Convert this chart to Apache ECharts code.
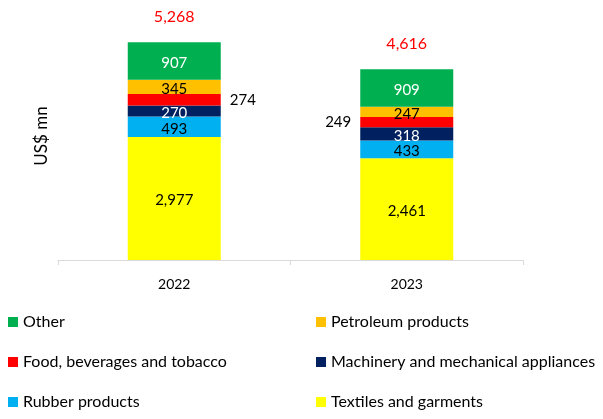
<!DOCTYPE html>
<html><head><meta charset="utf-8">
<script src="https://cdn.jsdelivr.net/npm/echarts@6/dist/echarts.min.js"></script>
<style>html,body{margin:0;padding:0;background:#fff}#c{width:603px;height:419px}</style>
</head><body><div id="c"></div>
<script>
const categories = ['2022', '2023'];
const textiles = [2977, 2461];
const rubber = [493, 433];
const machinery = [270, 318];
const food = [274, 249];
const petroleum = [345, 247];
const other = [907, 909];
const totals = [5268, 4616];

const FONT = 'Lato';
const chart = echarts.init(document.getElementById('c'));
function mk(name, data, color, labelColor, extra) {
  return {
    name: name, type: 'bar', stack: 's', barWidth: '40%',
    itemStyle: { color: color },
    label: { show: true, position: 'inside', color: labelColor, fontFamily: FONT, fontSize: 15, offset: [0, 2],
      formatter: p => p.value.toLocaleString('en-US') },
    emphasis: { disabled: true },
    data: data.map((v, i) => extra ? Object.assign({ value: v }, extra(i)) : v)
  };
}
const series = [
  mk('Textiles and garments', textiles, '#FFFF00', '#000'),
  mk('Rubber products', rubber, '#00B0F0', '#000'),
  mk('Machinery and mechanical appliances', machinery, '#002060', '#fff'),
  mk('Food, beverages and tobacco', food, '#FF0000', '#000', i => ({
    label: { position: i === 0 ? 'right' : 'left', distance: 9, offset: [0, 0] }
  })),
  mk('Petroleum products', petroleum, '#FFC000', '#000'),
  mk('Other', other, '#00B050', '#fff'),
  {
    name: 'Total', type: 'bar', stack: 's', barWidth: '40%',
    data: totals.map(() => 0),
    label: { show: true, position: 'top', distance: 17, color: '#FF0000', fontFamily: FONT, fontSize: 16,
      formatter: p => totals[p.dataIndex].toLocaleString('en-US') },
    emphasis: { disabled: true }
  }
];
const legendBase = {
  orient: 'vertical', itemWidth: 10, itemHeight: 10, itemGap: 24, icon: 'rect', height: 120,
  textStyle: { fontFamily: FONT, fontSize: 16, color: '#000' }, selectedMode: false
};
chart.setOption({
  animation: false,
  textStyle: { fontFamily: FONT },
  grid: { left: 58, right: 80, top: 12, bottom: 159 },
  legend: [
    Object.assign({ left: 3, top: 309, data: ['Other', 'Food, beverages and tobacco', 'Rubber products'] }, legendBase),
    Object.assign({ left: 311, top: 309, data: ['Petroleum products', 'Machinery and mechanical appliances', 'Textiles and garments'] }, legendBase)
  ],
  xAxis: {
    type: 'category', data: categories,
    axisLine: { lineStyle: { color: '#d9d9d9' } },
    axisTick: { show: true, length: 5, lineStyle: { color: '#d9d9d9' } },
    axisLabel: { color: '#000', fontFamily: FONT, fontSize: 14, margin: 17 }
  },
  yAxis: {
    type: 'value', min: 0, max: 6000,
    name: 'US$ mn', nameLocation: 'middle', nameGap: 8,
    nameTextStyle: { fontFamily: FONT, fontSize: 17, color: '#000' },
    axisLine: { show: false }, axisTick: { show: false }, axisLabel: { show: false }, splitLine: { show: false }
  },
  series: series
});
</script></body></html>
